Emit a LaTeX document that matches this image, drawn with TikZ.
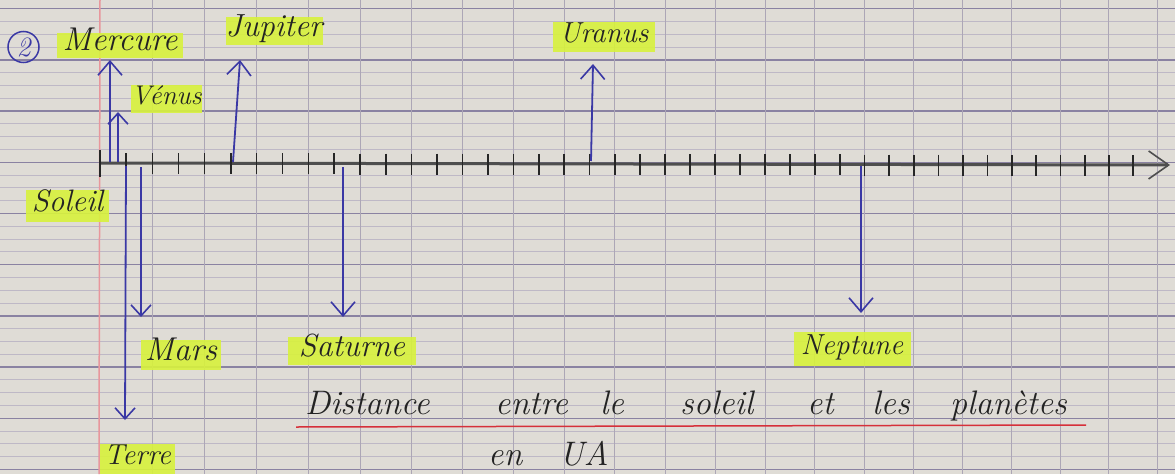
\documentclass[tikz,border=0pt]{standalone}
\usepackage{fontspec}
\usetikzlibrary{arrows.meta}
\definecolor{paper}{RGB}{223,220,214}
\definecolor{gridmaj}{RGB}{138,130,162}
\definecolor{gridmin}{RGB}{190,184,198}
\definecolor{gridver}{RGB}{172,166,182}
\definecolor{marginred}{RGB}{232,150,156}
\definecolor{ink}{RGB}{58,56,165}
\definecolor{pen}{RGB}{35,35,35}
\definecolor{hl}{RGB}{216,242,60}
\definecolor{pencil}{RGB}{78,78,78}
\definecolor{underline}{RGB}{214,48,58}
\begin{document}
\begin{tikzpicture}[x=1pt,y=-1pt,
  lbl/.style={fill=hl, fill opacity=0.9, text opacity=1, text=pen, inner sep=0pt,
    text height=14pt, text depth=4pt},
  fs/.style={font=\fontsize{#1}{#1}\selectfont\itshape},
  word/.style={anchor=base west, inner sep=0pt, text=pen, font=\fontsize{34}{38}\selectfont\itshape},
  planet/.style={draw=ink, line width=1.8pt, -{Straight Barb[length=14pt,width=24pt,line width=1.6pt]}},
  smallplanet/.style={draw=ink, line width=1.8pt, -{Straight Barb[length=11pt,width=20pt,line width=1.6pt]}},
  tickmark/.style={draw=black!85, line width=1.7pt}]
\useasboundingbox (0,0) rectangle (1175,474);
\fill[paper] (0,0) rectangle (1175,474);
% horizontal ruling
\foreach \i in {0,...,36}{
  \pgfmathsetmacro\yy{8.6+12.8*\i}
  \pgfmathtruncatemacro\m{mod(\i,4)}
  \ifnum\m=0
    \draw[gridmaj,line width=1.4pt] (0,\yy) -- (1175,\yy);
  \else
    \draw[gridmin,line width=0.7pt] (0,\yy) -- (1175,\yy);
  \fi
}
% vertical ruling
\foreach \j in {1,...,21}{
  \pgfmathsetmacro\xx{100+52.52*\j-0.1036*\j*\j}
  \draw[gridver,line width=1pt] (\xx,0) -- (\xx,474);
}
% margin
\draw[marginred,line width=1.5pt] (100,0) -- (99,474);
% axis
\coordinate (a0) at (100,163);
\coordinate (aend) at (1170,165);
\draw[pencil,line width=3pt,-{Straight Barb[length=20pt,width=28pt,line width=1.6pt]}] (a0) -- (aend);
\draw[tickmark] (100,150) -- (100,177);
\foreach \k in {1,...,41}{
  \pgfmathsetmacro\xx{100+26.26*\k-0.0259*\k*\k}
  \pgfmathsetmacro\yt{153+0.05*\k}
  \pgfmathsetmacro\yb{174+0.05*\k}
  \draw[tickmark] (\xx,\yt) -- (\xx,\yb);
}
% number
\node[draw=ink, circle, line width=1.5pt, minimum size=31pt, inner sep=0pt, text=ink, font=\fontsize{28}{28}\selectfont\itshape] (num) at (23.5,47) {2};
% labels
\node[lbl, fs=33, minimum width=126pt, minimum height=25pt] (mercure) at (120,45.5) {Mercure};
\node[lbl, fs=32, minimum width=97pt, minimum height=28pt] (jupiter) at (274,31) {Jupiter};
\node[lbl, fs=27, minimum width=67pt, minimum height=28pt] (venus) at (166.5,99) {Vénus};
\node[lbl, fs=29, minimum width=102pt, minimum height=30pt] (uranus) at (604,37) {Uranus};
\node[lbl, fs=31, minimum width=83pt, minimum height=32pt] (soleil) at (67.5,206) {Soleil};
\node[lbl, fs=33, minimum width=80pt, minimum height=30pt] (mars) at (181,355) {Mars};
\node[lbl, fs=32, minimum width=128pt, minimum height=28pt] (saturne) at (352,351) {Saturne};
\node[lbl, fs=29, minimum width=75pt, minimum height=30pt] (terre) at (137.5,459) {Terre};
\node[lbl, fs=29, minimum width=117pt, minimum height=34pt] (neptune) at (852,349) {Neptune};
% arrows
\coordinate (mer0) at (110,162); \coordinate (mer1) at (110,60);
\coordinate (ven0) at (118,162); \coordinate (ven1) at (118,112);
\coordinate (jup0) at (233,162); \coordinate (jup1) at (240,60);
\coordinate (ura0) at (591,161); \coordinate (ura1) at (593,64);
\coordinate (ter0) at (126,166); \coordinate (ter1) at (125,420);
\coordinate (mar0) at (141,167); \coordinate (mar1) at (141,317);
\coordinate (sat0) at (343,167); \coordinate (sat1) at (343,317);
\coordinate (nep0) at (861,166); \coordinate (nep1) at (861,313);
\draw[planet] (mer0) -- (mer1);
\draw[smallplanet] (ven0) -- (ven1);
\draw[planet] (jup0) -- (jup1);
\draw[planet] (ura0) -- (ura1);
\draw[smallplanet] (ter0) -- (ter1);
\draw[smallplanet] (mar0) -- (mar1);
\draw[planet] (sat0) -- (sat1);
\draw[planet] (nep0) -- (nep1);
% title
\node[word] (t1) at (305,414) {Distance};
\node[word] (t2) at (495,414) {entre};
\node[word] (t3) at (600,414) {le};
\node[word] (t4) at (680,414) {soleil};
\node[word] (t5) at (807,414) {et};
\node[word] (t6) at (872,414) {les};
\node[word] (t7) at (950,414) {planètes};
\node[word] (t8) at (488,465) {en};
\node[word] (t9) at (559,465) {UA};
\coordinate (u0) at (296,427); \coordinate (u1) at (1086,425);
\draw[underline,line width=1.5pt] (u0) -- (u1);
\end{tikzpicture}
\end{document}
